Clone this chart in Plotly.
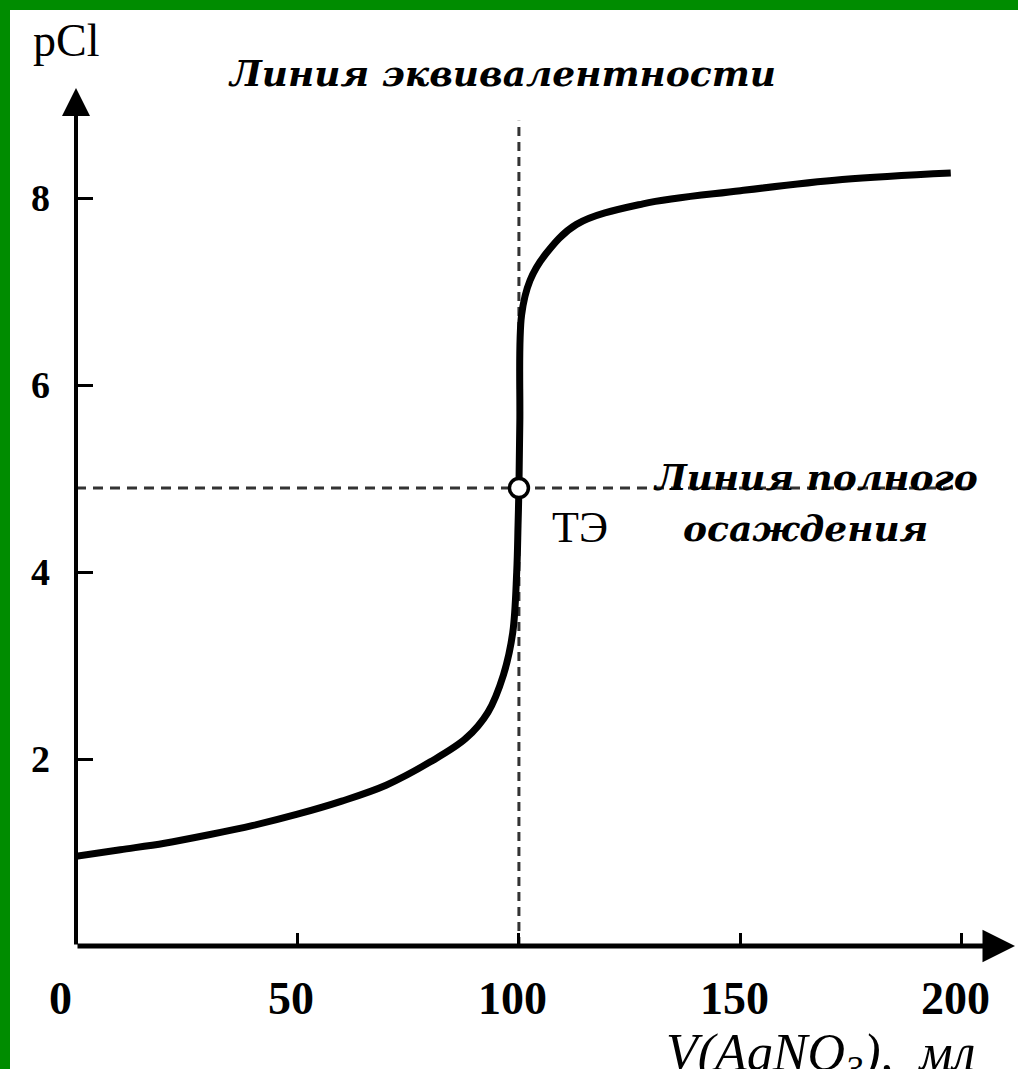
import plotly.graph_objects as go

# ---------------- data ----------------
volume_ml = [0, 10, 20, 30, 40, 50, 60, 70, 80, 88, 93, 96.5, 98.6, 99.5, 99.8, 100.0,
             100.2, 100.6, 102.5, 106, 113, 128, 150, 173, 197.5]
pcl = [0.96, 1.03, 1.10, 1.19, 1.29, 1.41, 1.55, 1.72, 1.97, 2.22, 2.5, 2.9, 3.35, 4.0,
       4.5, 4.9, 5.6, 6.75, 7.12, 7.4, 7.72, 7.94, 8.08, 8.2, 8.27]

equiv_volume = 100
equiv_pcl = 4.9

x_ticks = [50, 100, 150, 200]
x_tick_labels = ["0", "50", "100", "150", "200"]
x_label_values = [0, 50, 100, 150, 200]
y_ticks = [2, 4, 6, 8]
y_tick_labels = ["2", "4", "6", "8"]

title_text = "Линия эквивалентности"
line_text_1 = "Линия полного"
line_text_2 = "осаждения"
point_text = "ТЭ"
y_title = "pCl"
x_title = "V(AgNO<sub>3</sub>),  мл"

# ---------------- layout geometry ----------------
W, H = 1018, 1069
L_PX, R_PX, T_PX, B_PX = 76, 1015, 58, 946
X_RANGE = [0, 212]
Y_RANGE = [0, 9.5]


def fx(px):
    return (px - L_PX) / (R_PX - L_PX)


def fy(py):
    return (B_PX - py) / (B_PX - T_PX)


GREEN = "#008c00"
serif = "Liberation Serif"
deco = "DejaVu Serif"

fig = go.Figure()

# dashed guide lines
fig.add_trace(go.Scatter(
    x=[0, 203], y=[equiv_pcl, equiv_pcl], mode="lines",
    line=dict(color="#333333", width=3, dash="10px,7px"),
    hoverinfo="skip", showlegend=False))
fig.add_trace(go.Scatter(
    x=[equiv_volume, equiv_volume], y=[0, 8.83], mode="lines",
    line=dict(color="#333333", width=3, dash="9px,6px"),
    hoverinfo="skip", showlegend=False))

# titration curve
fig.add_trace(go.Scatter(
    x=volume_ml, y=pcl, mode="lines",
    line=dict(color="black", width=7, shape="spline", smoothing=1.0),
    showlegend=False))

# equivalence point marker
fig.add_trace(go.Scatter(
    x=[equiv_volume], y=[equiv_pcl], mode="markers",
    marker=dict(size=19, color="white", line=dict(color="black", width=3.5)),
    showlegend=False))

annotations = []
# axis arrows
annotations.append(dict(x=0, y=9.18, ax=0, ay=0, xref="x", yref="y", axref="x", ayref="y",
                        text="", showarrow=True, arrowhead=2, arrowsize=1.4, arrowwidth=4,
                        arrowcolor="black", standoff=0, startstandoff=0))
annotations.append(dict(x=212, y=0, ax=0, ay=0, xref="x", yref="y", axref="x", ayref="y",
                        text="", showarrow=True, arrowhead=2, arrowsize=1.3, arrowwidth=5,
                        arrowcolor="black", standoff=0, startstandoff=0))

# x tick labels
for v, t in zip(x_label_values, x_tick_labels):
    annotations.append(dict(x=v, y=0, xref="x", yref="y", text="<b>" + t + "</b>", showarrow=False,
                            xshift=-16 if v == 0 else -6, yshift=-52,
                            font=dict(family=serif, size=46, color="black"),
                            xanchor="center", yanchor="middle"))
# y tick labels
for v, t in zip(y_ticks, y_tick_labels):
    annotations.append(dict(x=fx(40), y=v, xref="paper", yref="y", text="<b>" + t + "</b>",
                            showarrow=False, font=dict(family=serif, size=38, color="black"),
                            xanchor="center", yanchor="middle"))

annotations += [
    dict(x=fx(66), y=fy(40), xref="paper", yref="paper", text=y_title, showarrow=False,
         font=dict(family=serif, size=46, color="black"), xanchor="center", yanchor="middle"),
    dict(x=fx(502), y=fy(73), xref="paper", yref="paper", text="<b><i>" + title_text + "</i></b>",
         showarrow=False, font=dict(family=deco, size=36, color="black"),
         xanchor="center", yanchor="middle"),
    dict(x=fx(815), y=fy(477), xref="paper", yref="paper", text="<b><i>" + line_text_1 + "</i></b>",
         showarrow=False, font=dict(family=deco, size=36, color="black"),
         xanchor="center", yanchor="middle"),
    dict(x=fx(805), y=fy(528), xref="paper", yref="paper", text="<b><i>" + line_text_2 + "</i></b>",
         showarrow=False, font=dict(family=deco, size=36, color="black"),
         xanchor="center", yanchor="middle"),
    dict(x=fx(580), y=fy(527), xref="paper", yref="paper", text=point_text, showarrow=False,
         font=dict(family=serif, size=44, color="black"), xanchor="center", yanchor="middle"),
    dict(x=fx(664), y=fy(1022), xref="paper", yref="paper", text="<i>" + x_title + "</i>",
         showarrow=False, font=dict(family=serif, size=52, color="black"),
         xanchor="left", yanchor="top"),
]

# green frame: one L-shaped band along the top and left edges
path = "M {a},{b} L {c},{b} L {c},{d} L {e},{d} L {e},{f} L {a},{f} Z".format(
    a=fx(0), b=fy(0), c=fx(W), d=fy(10), e=fx(10), f=fy(H))
shapes = [
    dict(type="path", xref="paper", yref="paper", path=path,
         fillcolor=GREEN, line=dict(width=0), layer="above"),
]

fig.update_layout(
    width=W, height=H,
    margin=dict(l=L_PX, r=W - R_PX, t=T_PX, b=H - B_PX, pad=0),
    paper_bgcolor="white", plot_bgcolor="white",
    showlegend=False,
    annotations=annotations,
    shapes=shapes,
    xaxis=dict(range=X_RANGE, showgrid=False, zeroline=False, showline=False,
               tickvals=x_ticks, ticks="inside", ticklen=13, tickwidth=3, tickcolor="black",
               showticklabels=False, fixedrange=True),
    yaxis=dict(range=Y_RANGE, showgrid=False, zeroline=False, showline=False,
               tickvals=y_ticks, ticks="inside", ticklen=17, tickwidth=3, tickcolor="black",
               showticklabels=False, fixedrange=True),
)

fig.write_html(
    "out.html",
    config={"displayModeBar": False},
    post_script="document.documentElement.style.background='white';document.body.style.background='white';document.body.style.margin='0';document.body.style.overflow='hidden';",
)
